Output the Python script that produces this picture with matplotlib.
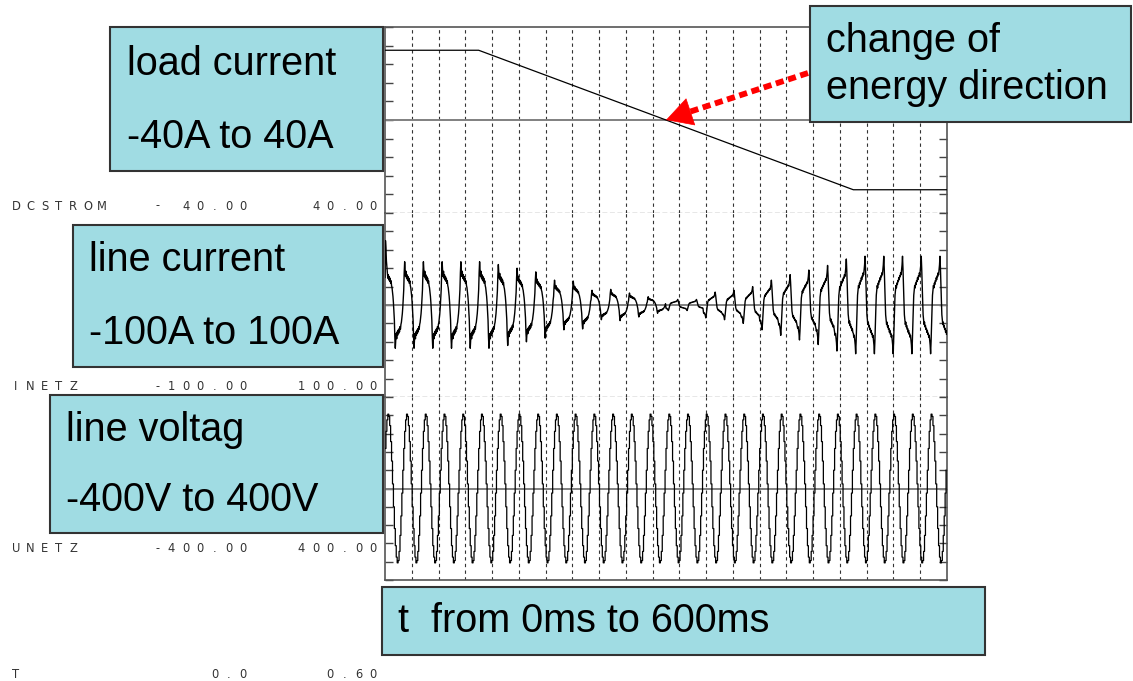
import numpy as np
import matplotlib
matplotlib.use("Agg")
from matplotlib import pyplot as plt
from matplotlib.patches import Rectangle
from matplotlib.lines import Line2D

# Figure size in pixels (dpi 100)
W, H = 1133, 681

# Load current (DCSTROM): breakpoints
load_t = [0.0, 0.1, 0.5, 0.6]
load_a = [30.0, 30.0, -30.0, -30.0]

# Line current (INETZ): one 20 ms period sampled every 0.5 ms, peak normalised to 1
rect_cycle = [0.35, 0.75, 1.00, 0.80, 0.66, 0.78, 0.62, 0.70, 0.58, 0.66,
              0.55, 0.62, 0.50, 0.56, 0.45, 0.40, 0.30, 0.20, 0.05, -0.15,
              -0.35, -0.75, -1.00, -0.80, -0.66, -0.78, -0.62, -0.70, -0.58, -0.66,
              -0.55, -0.62, -0.50, -0.56, -0.45, -0.40, -0.30, -0.20, -0.05, 0.15]
regen_cycle = [-0.58, -0.66, -0.62, -0.72, -0.82, -1.00, -0.75, -0.40, -0.10, 0.20,
               0.30, 0.40, 0.35, 0.45, 0.42, 0.50, 0.48, 0.56, 0.52, 0.60,
               0.58, 0.66, 0.62, 0.72, 0.82, 1.00, 0.75, 0.40, 0.10, -0.20,
               -0.30, -0.40, -0.35, -0.45, -0.42, -0.50, -0.48, -0.56, -0.52, -0.60]
# peak current of each of the 30 periods (A); rectifier up to period 15, then feeding back
cycle_amp = [47, 47, 47, 47, 47, 47, 44, 40, 36, 27,
             26, 16, 17, 13, 9, 6, 6, 14, 16, 20,
             27, 33, 38, 43, 50, 53, 53, 53, 53, 53]
regen_from = 15
inrush = [30, 70, 62, 48, 42]   # first samples after switch-on

# Line voltage (UNETZ): one period sampled every 1 ms (V)
volt_cycle = [175, 250, 300, 325, 315, 275, 205, 120, 20, -80,
              -175, -250, -300, -325, -315, -275, -205, -120, -20, 80]

# Panels: name, min, max
chan_names = ["DCSTROM", "INETZ", "UNETZ"]
chan_min = [-40.0, -100.0, -400.0]
chan_max = [40.0, 100.0, 400.0]
t_min, t_max = 0.0, 0.60

# build the sampled traces
i_net = []
for c, a in enumerate(cycle_amp):
    shape = rect_cycle if c < regen_from else regen_cycle
    i_net.extend([a * v for v in shape])
i_net[:len(inrush)] = inrush
i_net = np.array(i_net)
t_i = np.arange(len(i_net)) * 0.0005

u_net = np.array(volt_cycle * len(cycle_amp), dtype=float)
t_u = np.arange(len(u_net)) * 0.001

fig = plt.figure(figsize=(W / 100, H / 100), dpi=100)
fig.patch.set_facecolor("white")

x0, x1 = 385, 947
panel_px = [(27, 213), (213, 397), (397, 580)]
axes = []
for k, (y0, y1) in enumerate(panel_px):
    ax = fig.add_axes([x0 / W, 1 - y1 / H, (x1 - x0) / W, (y1 - y0) / H])
    ax.set_xlim(t_min, t_max)
    ax.set_ylim(chan_min[k], chan_max[k])
    ax.set_yticks(np.linspace(chan_min[k], chan_max[k], 11))
    ax.set_xticks([])
    ax.tick_params(axis="y", direction="in", length=6, width=1.0, color="#444444",
                   left=True, right=True, labelleft=False)
    for s in ax.spines.values():
        s.set_color("#555555")
        s.set_linewidth(1.2)
    if k > 0:
        ax.spines["top"].set_visible(False)
    if k < 2:
        ax.spines["bottom"].set_linestyle((0, (3, 3)))
        ax.spines["bottom"].set_linewidth(0.9)
        ax.spines["bottom"].set_color("#444444")
    for g in np.arange(1, 21) * (t_max / 21):
        ax.axvline(g, color="#333333", lw=0.8, ls=(0, (3, 3)), zorder=1)
    ax.axhline(0, color="#808080", lw=1.4, zorder=2)
    axes.append(ax)

axes[0].plot(load_t, load_a, color="black", lw=0.9, zorder=3)
axes[1].plot(t_i, i_net, color="black", lw=1.0, zorder=3)
axes[2].plot(t_u, u_net, color="black", lw=0.9, drawstyle="steps-post", zorder=3)


def fx(x):
    return x / W


def fy(y):
    return 1 - y / H


# small channel labels with wide character pitch
def spaced(x_first, y, s, pitch=14.3):
    for j, ch in enumerate(s):
        fig.text(fx(x_first + j * pitch), fy(y), ch, ha="center", va="center",
                 fontsize=8.3, color="#333333", family="DejaVu Sans")


def fmt(v):
    s = "%.2f" % abs(v)
    return ("-" + " " * (6 - len(s)) + s) if v < 0 else s


label_y = [206, 387, 549]
for k in range(3):
    spaced(16, label_y[k], chan_names[k])
    s = fmt(chan_min[k])
    spaced(243 - 14.3 * (len(s) - 1), label_y[k], s)
    s = fmt(chan_max[k])
    spaced(373 - 14.3 * (len(s) - 1), label_y[k], s)
spaced(16, 675, "T")
spaced(243 - 14.3 * 2, 675, "%.1f" % t_min)
spaced(373 - 14.3 * 3, 675, "%.2f" % t_max)

# cyan callout boxes
box_fc = "#a0dce3"
boxes = [
    ((110, 27, 383, 171), [("load current", 64), ("-40A to 40A", 137)], 127),
    ((73, 225, 383, 367), [("line current", 260), ("-100A to 100A", 333)], 89),
    ((50, 395, 383, 533), [("line voltag", 430), ("-400V to 400V", 500)], 66),
    ((382, 587, 985, 655), [("t  from 0ms to 600ms", 621)], 398),
    ((810, 6, 1131, 122), [("change of", 41), ("energy direction", 88)], 826),
]
for (bx0, by0, bx1, by1), lines, tx in boxes:
    fig.add_artist(Rectangle((fx(bx0), fy(by1)), (bx1 - bx0) / W, (by1 - by0) / H,
                             transform=fig.transFigure, facecolor=box_fc,
                             edgecolor="#333333", lw=1.5, zorder=5))
    for txt, ty in lines:
        fig.text(fx(tx), fy(ty), txt, ha="left", va="center", fontsize=28.5,
                 family="Liberation Sans", color="black", zorder=6)

# red dotted arrow to the zero crossing of the load current
fig.add_artist(Line2D([fx(808), fx(686)], [fy(73), fy(113)], transform=fig.transFigure,
                      color="red", lw=4.2, ls=(0, (1.4, 0.8)),
                      solid_capstyle="butt", dash_capstyle="butt", zorder=7))
ax = axes[0]
ax.annotate("", xy=(0.3, 0), xycoords="data",
            xytext=(fx(690), fy(112)), textcoords="figure fraction",
            arrowprops=dict(arrowstyle="-|>,head_length=1.0,head_width=0.55",
                            color="red", lw=0.5, mutation_scale=18,
                            shrinkA=0, shrinkB=0),
            annotation_clip=False, zorder=7)

fig.savefig("out.png", dpi=100, facecolor="white")
